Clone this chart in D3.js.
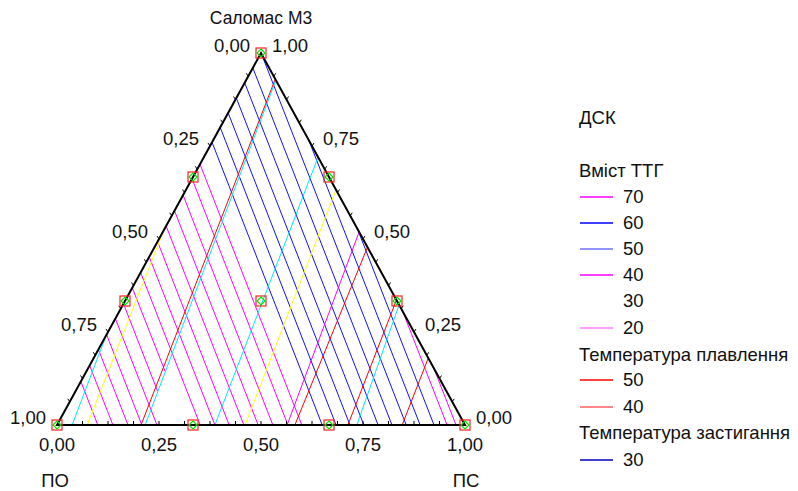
<!DOCTYPE html>
<html>
<head>
  <meta charset="utf-8">
  <script src="https://d3js.org/d3.v7.min.js"></script>
  <style>
    body { margin: 0; background: #fff; }
    text { font-family: Arial, "Liberation Sans", sans-serif; fill: #111; }
  </style>
</head>
<body>
  <svg id="chart" width="798" height="491"></svg>
  <script>
    // Кожен відрізок: [ПС1, Саломас1, ПС2, Саломас2] (частки компонентів)
    const magentaBack = [
      [0.100, 0, 0, 0.117], [0.137, 0, 0, 0.160], [0.174, 0, 0, 0.203],
      [0.208, 0, 0, 0.243], [0.245, 0, 0, 0.286], [0.201, 0.091, 0, 0.326],
      [0.193, 0.144, 0, 0.369], [0.351, 0, 0, 0.410], [0.387, 0, 0, 0.452],
      [0.422, 0, 0, 0.493], [0.458, 0, 0, 0.535], [0.493, 0, 0, 0.576],
      [0.529, 0, 0, 0.618], [0.566, 0, 0, 0.662], [0.600, 0, 0, 0.701]
    ];
    const blueBack = [
      [0.650, 0, 0, 0.760], [0.684, 0, 0, 0.800], [0.718, 0, 0, 0.839],
      [0.752, 0, 0, 0.879], [0.787, 0, 0, 0.920], [0.821, 0, 0, 0.960],
      [0.856, 0, 0.002, 0.998], [0.890, 0, 0.234, 0.766], [0.924, 0, 0.473, 0.527]
    ];
    const magentaRight = [[0.956, 0, 0.695, 0.305], [0.978, 0, 0.847, 0.153]];
    const cyanFwd = [
      [0.037, 0, 0, 0.242], [0.216, 0, 0.073, 0.927],
      [0.387, 0, 0.280, 0.720], [0.735, 0, 0.677, 0.323]
    ];
    const yellowFwd = [[0.074, 0, 0, 0.524], [0.461, 0, 0.368, 0.632]];
    const redFwd = [
      [0.206, 0, 0.070, 0.930], [0.583, 0, 0.522, 0.478],
      [0.713, 0, 0.664, 0.336], [0.846, 0, 0.820, 0.180]
    ];
    const magentaFwd = [[0.564, 0, 0.481, 0.519]];

    // Точки плану (ПС, Саломас)
    const designPoints = [
      [0, 0], [1, 0], [0, 1], [1/3, 0], [2/3, 0],
      [0, 1/3], [0, 2/3], [2/3, 1/3], [1/3, 2/3], [1/3, 1/3]
    ];
    const tickValues = [0, 0.25, 0.5, 0.75, 1];
    const tickLabels = ["0,00", "0,25", "0,50", "0,75", "1,00"];

    const legendItems = [
      { text: "ДСК", y: 118, title: true },
      { text: "Вміст ТТГ", y: 171, title: true },
      { text: "70", y: 197, color: "#ff00ff" },
      { text: "60", y: 223, color: "#0000ff" },
      { text: "50", y: 249, color: "#7070ff" },
      { text: "40", y: 275, color: "#ff00ff" },
      { text: "30", y: 301, color: "none" },
      { text: "20", y: 328, color: "#ff80ff" },
      { text: "Температура плавлення", y: 355, title: true },
      { text: "50", y: 380, color: "#ff0000" },
      { text: "40", y: 407, color: "#ff6060" },
      { text: "Температура застигання", y: 433, title: true },
      { text: "30", y: 460, color: "#0000c0" }
    ];

    const svg = d3.select("#chart");
    const x = d3.scaleLinear().domain([0, 1]).range([57, 465]);
    const y = d3.scaleLinear().domain([0, 1]).range([425, 53]);
    const px = (s, c) => x(s + c / 2);
    const py = (s, c) => y(c);
    const fs = 18.5;

    const plot = svg.append("g");

    function drawSegments(data, color) {
      plot.append("g").selectAll("line")
        .data(data)
        .enter()
        .append("line")
        .attr("x1", d => px(d[0], d[1]))
        .attr("y1", d => py(d[0], d[1]))
        .attr("x2", d => px(d[2], d[3]))
        .attr("y2", d => py(d[2], d[3]))
        .attr("stroke", color)
        .attr("stroke-width", 1);
    }
    drawSegments(magentaBack, "#ff00ff");
    drawSegments(blueBack, "#1010ff");
    drawSegments(magentaRight, "#ff00ff");
    drawSegments(redFwd, "#ff0000");
    drawSegments(magentaFwd, "#ff00ff");
    drawSegments(yellowFwd, "#ffff00");
    drawSegments(cyanFwd, "#00e8ff");

    // Трикутник
    plot.append("path")
      .attr("d", `M${px(0, 0)},${py(0, 0)}L${px(1, 0)},${py(1, 0)}L${px(0, 1)},${py(0, 1)}Z`)
      .attr("fill", "none")
      .attr("stroke", "#000")
      .attr("stroke-width", 2);

    // Дрібні поділки кожні 1/16
    const ticks = d3.range(1, 16).map(i => i / 16);
    plot.append("g").selectAll("line").data(ticks).enter().append("line")
      .attr("x1", d => px(d, 0)).attr("y1", py(0, 0))
      .attr("x2", d => px(d, 0)).attr("y2", py(0, 0) - 4)
      .attr("stroke", "#000");
    plot.append("g").selectAll("line").data(ticks).enter().append("line")
      .attr("x1", d => px(0, d)).attr("y1", d => py(0, d))
      .attr("x2", d => px(0, d) - 2).attr("y2", d => py(0, d) - 3)
      .attr("stroke", "#000");
    plot.append("g").selectAll("line").data(ticks).enter().append("line")
      .attr("x1", d => px(1 - d, d)).attr("y1", d => py(1 - d, d))
      .attr("x2", d => px(1 - d, d) + 2).attr("y2", d => py(1 - d, d) - 3)
      .attr("stroke", "#000");

    // Підписи осей: низ (ПС), ліва сторона (ПО), права сторона (Саломас)
    plot.append("g").selectAll("text").data(tickValues).enter().append("text")
      .attr("x", d => px(d, 0)).attr("y", py(0, 0) + 26)
      .attr("text-anchor", "middle").attr("font-size", fs)
      .text((d, i) => tickLabels[i]);
    plot.append("g").selectAll("text").data(tickValues).enter().append("text")
      .attr("x", d => px(0, 1 - d) - 11).attr("y", d => py(0, 1 - d) - 1)
      .attr("text-anchor", "end").attr("font-size", fs)
      .text((d, i) => tickLabels[i]);
    plot.append("g").selectAll("text").data(tickValues).enter().append("text")
      .attr("x", d => px(1 - d, d) + 11).attr("y", d => py(1 - d, d) - 1)
      .attr("text-anchor", "start").attr("font-size", fs)
      .text((d, i) => tickLabels[i]);

    svg.append("text").attr("x", px(0, 1)).attr("y", 24)
      .attr("text-anchor", "middle").attr("font-size", 17.5).text("Саломас М3");
    svg.append("text").attr("x", 55).attr("y", 487)
      .attr("text-anchor", "middle").attr("font-size", fs).text("ПО");
    svg.append("text").attr("x", 466).attr("y", 487)
      .attr("text-anchor", "middle").attr("font-size", fs).text("ПС");

    // Точки плану
    const pts = plot.append("g").selectAll("g").data(designPoints).enter().append("g")
      .attr("transform", d => `translate(${px(d[0], d[1])},${py(d[0], d[1])})`);
    pts.append("rect").attr("x", -5).attr("y", -5).attr("width", 10).attr("height", 10)
      .attr("fill", "none").attr("stroke", "#ff2020").attr("stroke-width", 1.2);
    pts.append("path").attr("d", "M0,-4L4,0L0,4L-4,0Z")
      .attr("fill", "none").attr("stroke", "#00e000").attr("stroke-width", 1.2);

    // Легенда
    const leg = svg.append("g");
    leg.selectAll("text").data(legendItems).enter().append("text")
      .attr("x", d => d.title ? 579 : 623)
      .attr("y", d => d.y + 6)
      .attr("font-size", fs)
      .text(d => d.text);
    leg.selectAll("line").data(legendItems.filter(d => !d.title)).enter().append("line")
      .attr("x1", 580).attr("x2", 613)
      .attr("y1", d => d.y).attr("y2", d => d.y)
      .attr("stroke", d => d.color).attr("stroke-width", 1.3);
  </script>
</body>
</html>
